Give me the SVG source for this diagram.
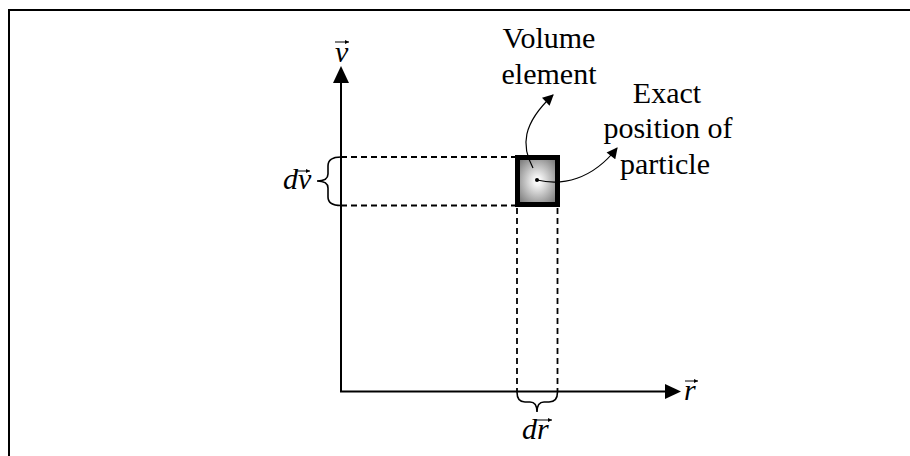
<svg xmlns="http://www.w3.org/2000/svg" width="910" height="456" viewBox="0 0 910 456">
<style>
.ax{stroke:#000;stroke-width:2;fill:none}
.dash{stroke:#000;stroke-width:1.8;stroke-dasharray:6 4;fill:none}
.brace{stroke:#000;stroke-width:1.6;fill:none}
.lbl{font-family:"Liberation Serif","Times New Roman",serif;font-size:30px;fill:#000}
.math{font-family:"Liberation Serif","Times New Roman",serif;font-size:30px;font-style:italic;fill:#000}
.curve{stroke:#000;stroke-width:1.2;fill:none;marker-end:url(#ah)}
.vec{stroke:#000;stroke-width:1;fill:none;marker-end:url(#va)}
</style>
<defs>
<marker id="ah" viewBox="0 0 10 10" refX="9" refY="5" markerWidth="13" markerHeight="11" markerUnits="userSpaceOnUse" orient="auto">
<path d="M0,0 L10,5 L0,10 z" fill="#000"/>
</marker>
<marker id="va" viewBox="0 0 10 10" refX="10" refY="5" markerWidth="5" markerHeight="4" markerUnits="userSpaceOnUse" orient="auto">
<path d="M0,0 L10,5 L0,10 z" fill="#000"/>
</marker>
<radialGradient id="g" cx="0.5" cy="0.5" r="0.62">
<stop offset="0" stop-color="#ffffff"/>
<stop offset="0.15" stop-color="#f4f4f4"/>
<stop offset="1" stop-color="#7a7a7a"/>
</radialGradient>
</defs>
<rect width="910" height="456" fill="#fff"/>
<path d="M9,456 L9,10 L910,10" stroke="#000" stroke-width="2" fill="none"/>
<g id="axes">
<path class="ax" d="M341,82 L341,391.5 L666,391.5"/>
<path d="M341,66 L333,83 L349,83 z" fill="#000"/>
<path d="M681,391.5 L665,384 L665,399 z" fill="#000"/>
</g>
<g id="element">
<rect x="517.5" y="157.5" width="40" height="47" fill="url(#g)" stroke="#000" stroke-width="5"/>
<circle cx="537" cy="180" r="2" fill="#000"/>
</g>
<g id="connectors">
<path class="dash" d="M341,157 L515,157 M341,205.5 L515,205.5"/>
<path class="dash" d="M517,208 L517,392 M557.5,208 L557.5,392"/>
<path class="brace" d="M341,157 Q328,157 328,166 L328,174 Q328,181 317,181 Q328,181 328,188 L328,197 Q328,205.5 341,205.5"/>
<path class="brace" d="M517,392 Q517,402 525,402 L530,402 Q537,402 537,412 Q537,402 544,402 L549,402 Q557.5,402 557.5,392"/>
<path class="curve" d="M533,168 C521,146 522,124 553,95"/>
<path class="curve" d="M537,180 C562,186 592,180 617,148"/>
</g>
<g id="labels">
<text class="math" x="335" y="62">v</text>
<path class="vec" d="M335,42 L349,42"/>
<text class="math" x="684" y="400">r</text>
<path class="vec" d="M685,381 L698,381"/>
<text class="math" x="283" y="189">dv</text>
<path class="vec" d="M295,171 L310,171"/>
<text class="math" x="522" y="439">dr</text>
<path class="vec" d="M534,420 L552,420"/>
<text class="lbl" x="549" y="48" text-anchor="middle">Volume</text>
<text class="lbl" x="549" y="84" text-anchor="middle">element</text>
<text class="lbl" x="667" y="103" text-anchor="middle">Exact</text>
<text class="lbl" x="668" y="138" text-anchor="middle">position of</text>
<text class="lbl" x="665" y="174" text-anchor="middle">particle</text>
</g>
</svg>
